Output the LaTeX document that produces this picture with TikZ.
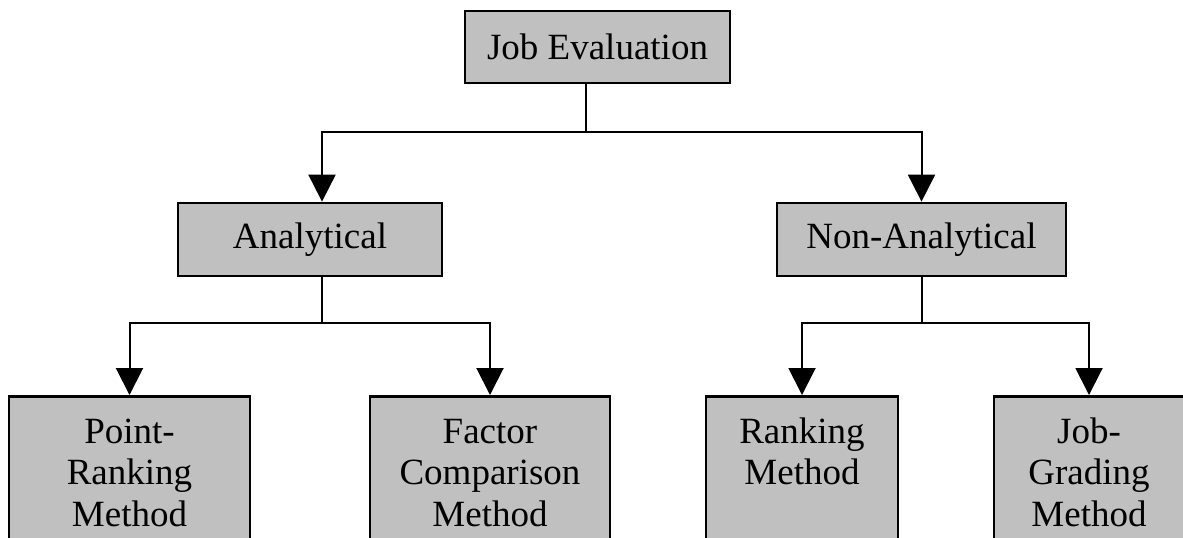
\documentclass[tikz,border=0pt]{standalone}
\usepackage{fontspec}
\setmainfont{Liberation Serif}
\usepackage{xcolor}
\usepackage{tikz}
\usetikzlibrary{arrows.meta}

\definecolor{boxgray}{HTML}{C0C0C0}

\begin{document}
\begin{tikzpicture}[
    x=0.5pt, y=-0.5pt,
    box/.style={rectangle, draw=black, fill=boxgray, line width=1.4pt, inner sep=0pt,
                minimum height=36.5pt, align=center,
                font=\fontsize{18.5}{20.75}\selectfont},
    leafbox/.style={box, anchor=north, minimum height=0pt},
    leafthree/.style={leafbox, text height=65pt, text depth=18.5pt},
    leaftwo/.style={leafbox, text height=44.25pt, text depth=39.25pt},
    line/.style={line width=1pt},
    arrow/.style={line, -{Triangle[width=13.5pt, length=13.5pt]}}
]
\useasboundingbox (0,0) rectangle (1183,537);

% Nodes
\node[box, minimum width=132.5pt, minimum height=36pt] (job) at (597.5,47) {Job Evaluation};

\node[box, minimum width=132pt] (ana) at (310,239.5) {Analytical};
\node[box, minimum width=144.5pt] (nonana) at (921.5,239.5) {Non-Analytical};

\node[leafthree, minimum width=120.5pt] (point) at (129.5,395) {Point-\\Ranking\\Method};
\node[leafthree, minimum width=120pt] (factor) at (490,395) {Factor\\Comparison\\Method};
\node[leaftwo, minimum width=96pt] (rank) at (802,395) {Ranking\\Method};
\node[leafthree, minimum width=95pt] (grade) at (1089,395) {Job-\\Grading\\Method};

% Forks
\coordinate (jobfork) at (586,132);
\coordinate (anafork) at (322,323);
\coordinate (nonfork) at (922,323);

% Arrows
\draw[line] (jobfork |- job.south) -- (jobfork);
\draw[arrow] (jobfork) -| ([xshift=6pt]ana.north);
\draw[arrow] (jobfork) -| (nonana.north);

\draw[line] (anafork |- ana.south) -- (anafork);
\draw[arrow] (anafork) -| (point.north);
\draw[arrow] (anafork) -| (factor.north);

\draw[line] (nonfork |- nonana.south) -- (nonfork);
\draw[arrow] (nonfork) -| (rank.north);
\draw[arrow] (nonfork) -| (grade.north);

\end{tikzpicture}
\end{document}
